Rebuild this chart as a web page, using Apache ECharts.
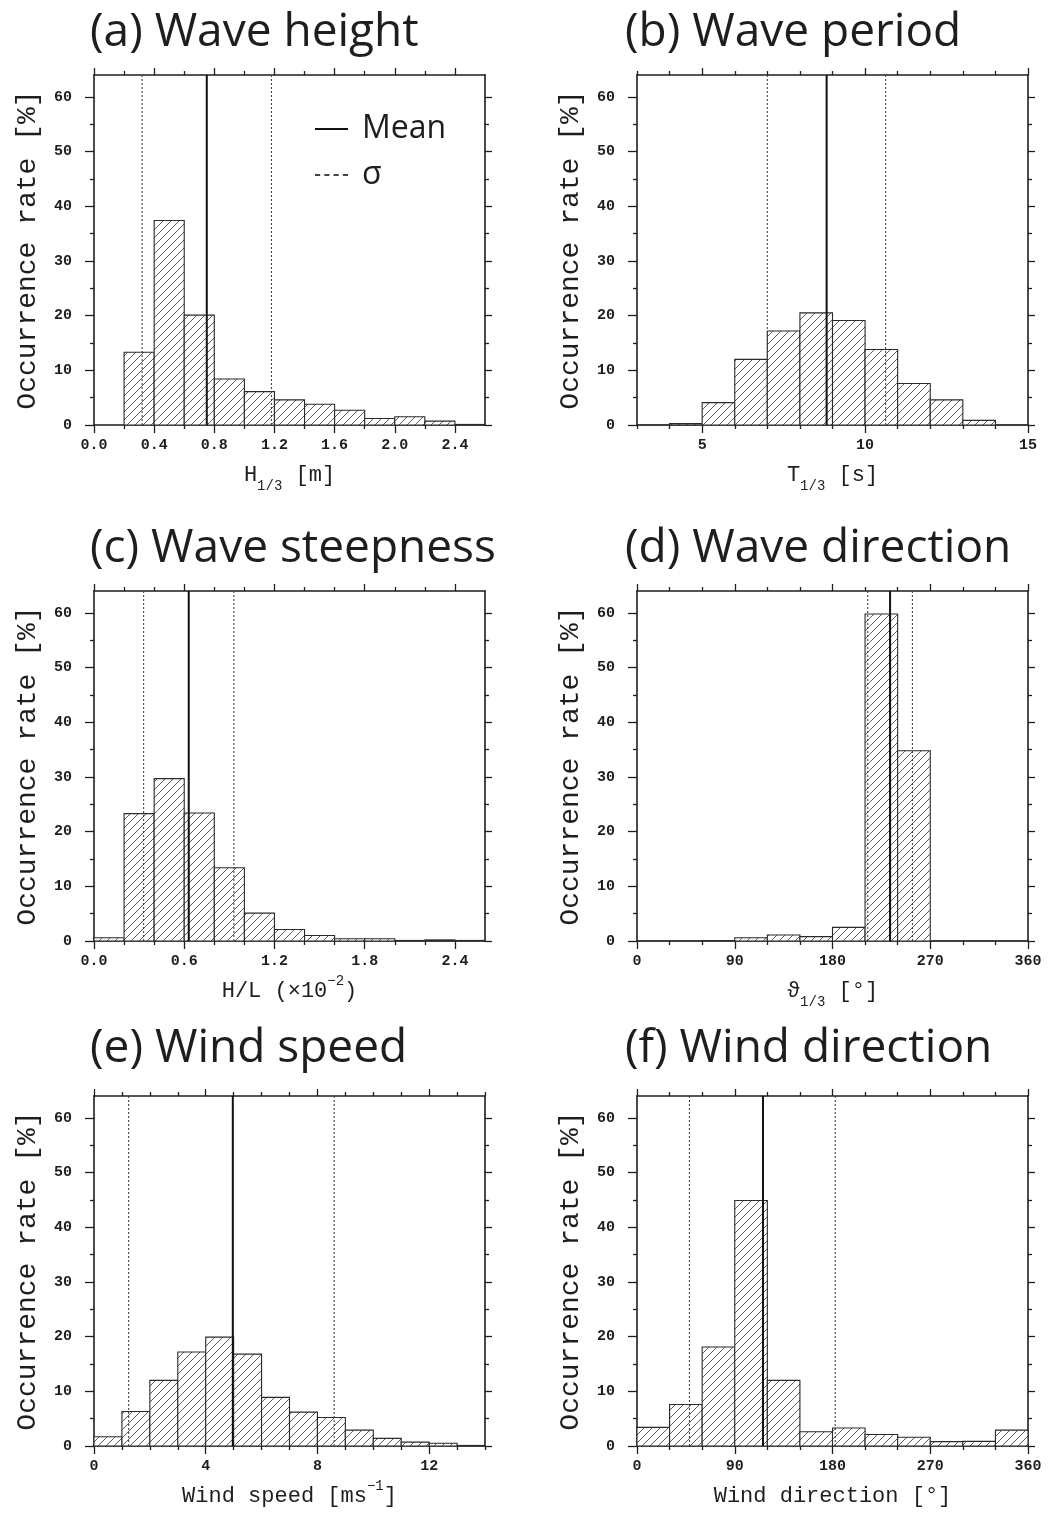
<!DOCTYPE html>
<html>
<head>
<meta charset="utf-8">
<script src="https://cdn.jsdelivr.net/npm/echarts@6/dist/echarts.min.js"></script>
<style>
  html, body { margin: 0; padding: 0; background: #fff; }
  #chart { width: 1049px; height: 1513px; }
</style>
</head>
<body>
<div id="chart"></div>
<script>
// ---- panel titles ----
const panelTitles = ['(a) Wave height', '(b) Wave period', '(c) Wave steepness',
                     '(d) Wave direction', '(e) Wind speed', '(f) Wind direction'];

// ---- (a) significant wave height H1/3 [m] ----
const heightEdges = [0.2, 0.4, 0.6, 0.8, 1.0, 1.2, 1.4, 1.6, 1.8, 2.0, 2.2, 2.4, 2.6];
const heightRate  = [13.3, 37.4, 20.1, 8.4, 6.1, 4.6, 3.8, 2.7, 1.2, 1.5, 0.7, 0.1];
const heightMean  = 0.75;
const heightSigma = [0.32, 1.18];
const heightTicks = [0.0, 0.4, 0.8, 1.2, 1.6, 2.0, 2.4];
const heightMinor = [0.2, 0.6, 1.0, 1.4, 1.8, 2.2];

// ---- (b) significant wave period T1/3 [s] ----
const periodEdges = [3, 4, 5, 6, 7, 8, 9, 10, 11, 12, 13, 14, 15];
const periodRate  = [0, 0.25, 4.1, 12.0, 17.2, 20.5, 19.1, 13.8, 7.6, 4.6, 0.85, 0];
const periodMean  = 8.82;
const periodSigma = [7.0, 10.63];
const periodTicks = [5, 10, 15];
const periodMinor = [3, 4, 6, 7, 8, 9, 11, 12, 13, 14];

// ---- (c) wave steepness H/L (x10^-2) ----
const steepEdges = [0.0, 0.2, 0.4, 0.6, 0.8, 1.0, 1.2, 1.4, 1.6, 1.8, 2.0, 2.2, 2.4, 2.6];
const steepRate  = [0.6, 23.3, 29.7, 23.4, 13.4, 5.1, 2.1, 1.0, 0.4, 0.4, 0.1, 0.2, 0.1];
const steepMean  = 0.63;
const steepSigma = [0.33, 0.93];
const steepTicks = [0.0, 0.6, 1.2, 1.8, 2.4];
const steepMinor = [0.2, 0.4, 0.8, 1.0, 1.4, 1.6, 2.0, 2.2];

// ---- (d) wave direction [deg] ----
const waveDirEdges = [0, 30, 60, 90, 120, 150, 180, 210, 240, 270, 300, 330, 360];
const waveDirRate  = [0, 0, 0.1, 0.6, 1.1, 0.8, 2.5, 59.8, 34.8, 0, 0, 0];
const waveDirMean  = 233;
const waveDirSigma = [212.4, 253.6];
const dirTicks = [0, 90, 180, 270, 360];
const dirMinor = [30, 60, 120, 150, 210, 240, 300, 330];

// ---- (e) wind speed [m/s] ----
const windEdges = [0, 1, 2, 3, 4, 5, 6, 7, 8, 9, 10, 11, 12, 13, 14];
const windRate  = [1.7, 6.3, 12.0, 17.2, 19.9, 16.8, 8.9, 6.2, 5.2, 2.9, 1.4, 0.7, 0.5, 0.1];
const windMean  = 4.97;
const windSigma = [1.24, 8.6];
const windTicks = [0, 4, 8, 12];
const windMinor = [1, 2, 3, 5, 6, 7, 9, 10, 11, 13, 14];

// ---- (f) wind direction [deg] ----
const windDirEdges = [0, 30, 60, 90, 120, 150, 180, 210, 240, 270, 300, 330, 360];
const windDirRate  = [3.4, 7.6, 18.1, 44.9, 12.0, 2.6, 3.3, 2.1, 1.6, 0.8, 0.85, 2.9];
const windDirMean  = 116;
const windDirSigma = [48.3, 182.5];

// ---- occurrence-rate axis ----
const rateMax   = 64;
const rateTicks = [0, 10, 20, 30, 40, 50, 60];
const rateMinor = [5, 15, 25, 35, 45, 55];

const INK = '#1e1e1e';
const MEAN_INK = '#111111';
const SIGMA_INK = '#444444';
const MONO = '"Liberation Mono", "DejaVu Sans Mono", monospace';
const SANS = '"Open Sans", "Noto Sans", sans-serif';

// diagonal hatch used to fill every histogram bar
function makeHatch() {
  const s = 8;
  const c = document.createElement('canvas');
  c.width = s; c.height = s;
  const g = c.getContext('2d');
  g.fillStyle = '#ffffff';
  g.fillRect(0, 0, s, s);
  g.strokeStyle = '#4a4a4a';
  g.lineWidth = 0.9;
  g.beginPath();
  g.moveTo(0, s); g.lineTo(s, 0);
  g.moveTo(-s / 2, s / 2); g.lineTo(s / 2, -s / 2);
  g.moveTo(s / 2, s * 1.5); g.lineTo(s * 1.5, s / 2);
  g.stroke();
  return c;
}
const hatch = { image: makeHatch(), repeat: 'repeat' };

const subRich = {
  s: { fontFamily: MONO, fontSize: 14, color: INK, verticalAlign: 'bottom', lineHeight: 14, padding: [0, 0, -4, 0] },
  p: { fontFamily: MONO, fontSize: 14, color: INK, verticalAlign: 'top', lineHeight: 14, padding: [-3, 0, 0, 0] }
};

const panels = [
  { edges: heightEdges, rate: heightRate, mean: heightMean, sigma: heightSigma,
    min: 0, max: 2.6, ticks: heightTicks, minor: heightMinor, digits: 1,
    name: 'H{s|1/3} [m]' },
  { edges: periodEdges, rate: periodRate, mean: periodMean, sigma: periodSigma,
    min: 3, max: 15, ticks: periodTicks, minor: periodMinor, digits: 0,
    name: 'T{s|1/3} [s]' },
  { edges: steepEdges, rate: steepRate, mean: steepMean, sigma: steepSigma,
    min: 0, max: 2.6, ticks: steepTicks, minor: steepMinor, digits: 1,
    name: 'H/L (×10{p|−2})' },
  { edges: waveDirEdges, rate: waveDirRate, mean: waveDirMean, sigma: waveDirSigma,
    min: 0, max: 360, ticks: dirTicks, minor: dirMinor, digits: 0,
    name: 'ϑ{s|1/3} [°]' },
  { edges: windEdges, rate: windRate, mean: windMean, sigma: windSigma,
    min: 0, max: 14, ticks: windTicks, minor: windMinor, digits: 0,
    name: 'Wind speed [ms{p|−1}]' },
  { edges: windDirEdges, rate: windDirRate, mean: windDirMean, sigma: windDirSigma,
    min: 0, max: 360, ticks: dirTicks, minor: dirMinor, digits: 0,
    name: 'Wind direction [°]' }
];

const colLeft = [94, 637];
const rowTop = [75, 591, 1096];
const gridW = 391, gridH = 350;
const titleTop = [10, 526, 1026];
const titleLeft = [90, 625];

const grid = [], xAxis = [], yAxis = [], series = [], title = [];

const tickLine = { color: INK, width: 1.3 };

panels.forEach((p, i) => {
  const col = i % 2, row = Math.floor(i / 2);
  grid.push({ left: colLeft[col], top: rowTop[row], width: gridW, height: gridH, containLabel: false });
  title.push({
    text: panelTitles[i], left: titleLeft[col], top: titleTop[row], padding: 0,
    textStyle: { fontFamily: SANS, fontSize: 46, fontWeight: 'normal', color: INK }
  });

  const xBase = xAxis.length;
  const yBase = yAxis.length;
  const fmt = v => Number(v).toFixed(p.digits);

  // bottom axis with labels and name
  xAxis.push({
    type: 'value', gridIndex: i, position: 'bottom', min: p.min, max: p.max,
    axisLine: { show: true, onZero: false, lineStyle: { color: INK, width: 1.6 } },
    axisTick: { show: true, inside: false, length: 8, customValues: p.ticks, lineStyle: tickLine },
    axisLabel: { show: true, customValues: p.ticks, formatter: fmt, margin: 13,
      fontFamily: MONO, fontWeight: 'bold', fontSize: 15, color: INK },
    splitLine: { show: false },
    name: p.name, nameLocation: 'middle', nameGap: 36,
    nameTextStyle: { fontFamily: MONO, fontSize: 22, color: INK, lineHeight: 28, rich: subRich }
  });
  // bottom minor ticks
  xAxis.push({
    type: 'value', gridIndex: i, position: 'bottom', min: p.min, max: p.max,
    axisLine: { show: false, onZero: false },
    axisTick: { show: true, inside: false, length: 4, customValues: p.minor, lineStyle: tickLine },
    axisLabel: { show: false }, splitLine: { show: false }
  });
  // top frame + ticks
  xAxis.push({
    type: 'value', gridIndex: i, position: 'top', min: p.min, max: p.max,
    axisLine: { show: true, onZero: false, lineStyle: { color: INK, width: 1.6 } },
    axisTick: { show: true, inside: false, length: 7, customValues: p.ticks, lineStyle: tickLine },
    axisLabel: { show: false }, splitLine: { show: false }
  });
  xAxis.push({
    type: 'value', gridIndex: i, position: 'top', min: p.min, max: p.max,
    axisLine: { show: false, onZero: false },
    axisTick: { show: true, inside: false, length: 4, customValues: p.minor, lineStyle: tickLine },
    axisLabel: { show: false }, splitLine: { show: false }
  });

  // left axis with labels and name
  yAxis.push({
    type: 'value', gridIndex: i, position: 'left', min: 0, max: rateMax,
    axisLine: { show: true, onZero: false, lineStyle: { color: INK, width: 1.6 } },
    axisTick: { show: true, inside: false, length: 9, customValues: rateTicks, lineStyle: tickLine },
    axisLabel: { show: true, customValues: rateTicks, margin: 22,
      fontFamily: MONO, fontWeight: 'bold', fontSize: 15, color: INK },
    splitLine: { show: false },
    name: 'Occurrence rate [%]', nameLocation: 'middle', nameGap: 52,
    nameTextStyle: { fontFamily: MONO, fontSize: 28, color: INK }
  });
  yAxis.push({
    type: 'value', gridIndex: i, position: 'left', min: 0, max: rateMax,
    axisLine: { show: false, onZero: false },
    axisTick: { show: true, inside: false, length: 4, customValues: rateMinor, lineStyle: tickLine },
    axisLabel: { show: false }, splitLine: { show: false }
  });
  // right frame + ticks
  yAxis.push({
    type: 'value', gridIndex: i, position: 'right', min: 0, max: rateMax,
    axisLine: { show: true, onZero: false, lineStyle: { color: INK, width: 1.6 } },
    axisTick: { show: true, inside: false, length: 7, customValues: rateTicks, lineStyle: tickLine },
    axisLabel: { show: false }, splitLine: { show: false }
  });
  yAxis.push({
    type: 'value', gridIndex: i, position: 'right', min: 0, max: rateMax,
    axisLine: { show: false, onZero: false },
    axisTick: { show: true, inside: false, length: 4, customValues: rateMinor, lineStyle: tickLine },
    axisLabel: { show: false }, splitLine: { show: false }
  });

  // histogram bars: [left edge, right edge, rate]
  const bins = p.rate.map((v, k) => [p.edges[k], p.edges[k + 1], v]);
  series.push({
    type: 'custom', xAxisIndex: xBase, yAxisIndex: yBase, z: 2, silent: true,
    encode: { x: [0, 1], y: 2 },
    data: bins,
    renderItem: (params, api) => {
      const a = api.coord([api.value(0), 0]);
      const b = api.coord([api.value(1), api.value(2)]);
      return {
        type: 'rect',
        shape: { x: a[0], y: b[1], width: b[0] - a[0], height: a[1] - b[1] },
        style: { fill: hatch, stroke: '#2a2a2a', lineWidth: 1.1 }
      };
    }
  });

  // ±σ lines (dotted) and mean line (solid)
  p.sigma.forEach(s => {
    series.push({
      type: 'line', name: 'σ', xAxisIndex: xBase, yAxisIndex: yBase, z: 3,
      symbol: 'none', silent: true,
      data: [[s, 0], [s, rateMax]],
      itemStyle: { color: SIGMA_INK },
      lineStyle: { color: SIGMA_INK, width: 1.1, type: [2, 2] }
    });
  });
  series.push({
    type: 'line', name: 'Mean', xAxisIndex: xBase, yAxisIndex: yBase, z: 4,
    symbol: 'none', silent: true,
    data: [[p.mean, 0], [p.mean, rateMax]],
    itemStyle: { color: MEAN_INK },
    lineStyle: { color: MEAN_INK, width: 2 }
  });
});

const chart = echarts.init(document.getElementById('chart'), null, { renderer: 'canvas' });
chart.setOption({
  backgroundColor: '#ffffff',
  animation: false,
  title,
  legend: {
    data: [
      { name: 'Mean', icon: 'path://M0,0H33V2H0Z', itemStyle: { color: MEAN_INK } },
      { name: 'σ', icon: 'path://M0,0H5V1.4H0Z M9,0H14V1.4H9Z M18,0H23V1.4H18Z M27,0H32V1.4H27Z',
        itemStyle: { color: SIGMA_INK } }
    ],
    orient: 'vertical', left: 315, top: 113,
    itemWidth: 33, itemHeight: 2, itemGap: 14, selectedMode: false, padding: 0,
    symbolKeepAspect: false,
    textStyle: { fontFamily: SANS, fontSize: 32, color: INK, lineHeight: 32, padding: [0, 0, 0, 9] }
  },
  grid, xAxis, yAxis, series
});
</script>
</body>
</html>
